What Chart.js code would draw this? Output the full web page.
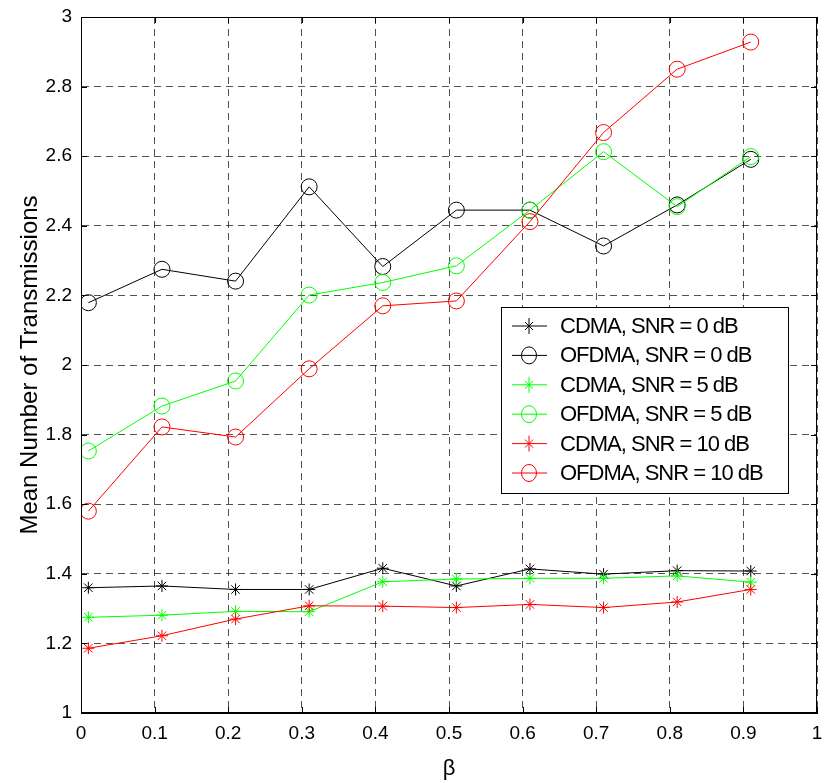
<!DOCTYPE html>
<html>
<head>
<meta charset="utf-8">
<script src="https://cdn.jsdelivr.net/npm/chart.js@4"></script>
<style>
  html, body { margin: 0; padding: 0; background: #fff; }
  #wrap { width: 826px; height: 783px; }
</style>
</head>
<body>
<div id="wrap"><canvas id="chart" width="826" height="783"></canvas></div>
<script>
const betaValues = [0.01, 0.11, 0.21, 0.31, 0.41, 0.51, 0.61, 0.71, 0.81, 0.91];

const cdma0 = [1.360, 1.365, 1.355, 1.355, 1.416, 1.365, 1.414, 1.399, 1.409, 1.408];
const ofdma0 = [2.179, 2.275, 2.241, 2.512, 2.283, 2.445, 2.445, 2.342, 2.460, 2.591];
const cdma5 = [1.275, 1.281, 1.292, 1.291, 1.377, 1.385, 1.387, 1.387, 1.394, 1.376];
const ofdma5 = [1.753, 1.882, 1.954, 2.201, 2.237, 2.285, 2.445, 2.613, 2.455, 2.599];
const cdma10 = [1.186, 1.222, 1.270, 1.308, 1.307, 1.303, 1.312, 1.303, 1.319, 1.355];
const ofdma10 = [1.580, 1.822, 1.793, 1.989, 2.170, 2.184, 2.412, 2.668, 2.850, 2.928];

const seriesLabels = [
    'CDMA, SNR = 0 dB', 'OFDMA, SNR = 0 dB',
    'CDMA, SNR = 5 dB', 'OFDMA, SNR = 5 dB',
    'CDMA, SNR = 10 dB', 'OFDMA, SNR = 10 dB'
];
const seriesValues = [cdma0, ofdma0, cdma5, ofdma5, cdma10, ofdma10];
const seriesColors = ['#000000', '#000000', '#00ff00', '#00ff00', '#ff0000', '#ff0000'];
const seriesMarkers = ['star', 'circle', 'star', 'circle', 'star', 'circle'];

const FONT = '"Liberation Sans", Arial, Helvetica, sans-serif';

function toPoints(vals) {
    return vals.map((v, i) => ({x: betaValues[i], y: v}));
}

const datasets = seriesValues.map((vals, i) => ({
    label: seriesLabels[i],
    data: toPoints(vals),
    borderColor: seriesColors[i],
    backgroundColor: 'rgba(0,0,0,0)',
    borderWidth: 1,
    pointStyle: seriesMarkers[i],
    pointRadius: seriesMarkers[i] === 'circle' ? 8 : 6,
    pointBorderWidth: 1,
    pointBorderColor: seriesColors[i],
    pointBackgroundColor: 'rgba(0,0,0,0)',
    tension: 0,
    fill: false,
    order: seriesValues.length - i
}));

// matlab style box, inward ticks and legend inside the axes
const boxAndLegend = {
    id: 'boxAndLegend',
    afterDatasetsDraw(chart) {
        const {ctx, chartArea: a, scales} = chart;
        ctx.save();
        ctx.strokeStyle = '#000';
        ctx.lineWidth = 1;
        ctx.setLineDash([]);
        ctx.strokeRect(a.left + 0.5, a.top + 0.5, a.right - a.left - 1, a.bottom - a.top - 1);

        ctx.beginPath();
        scales.x.ticks.forEach(t => {
            const px = Math.round(scales.x.getPixelForValue(t.value)) + 0.5;
            ctx.moveTo(px, a.bottom); ctx.lineTo(px, a.bottom - 6);
            ctx.moveTo(px, a.top); ctx.lineTo(px, a.top + 6);
        });
        scales.y.ticks.forEach(t => {
            const py = Math.round(scales.y.getPixelForValue(t.value)) + 0.5;
            ctx.moveTo(a.left, py); ctx.lineTo(a.left + 6, py);
            ctx.moveTo(a.right, py); ctx.lineTo(a.right - 6, py);
        });
        ctx.stroke();

        // legend
        const bx = 501, by = 307, bw = 287, bh = 186;
        ctx.fillStyle = '#fff';
        ctx.fillRect(bx, by, bw, bh);
        ctx.strokeRect(bx + 0.5, by + 0.5, bw, bh);
        ctx.font = '22px ' + FONT;
        ctx.letterSpacing = '-1px';
        ctx.textBaseline = 'middle';
        chart.data.datasets.forEach((ds, i) => {
            const y = by + 19 + i * 29.4;
            ctx.strokeStyle = ds.borderColor;
            ctx.beginPath();
            ctx.moveTo(512, y); ctx.lineTo(547, y);
            ctx.stroke();
            if (ds.pointStyle === 'circle') {
                ctx.beginPath();
                ctx.ellipse(529, y, 7.5, 8.5, 0, 0, Math.PI * 2);
                ctx.stroke();
            } else {
                ctx.beginPath();
                ctx.moveTo(529, y - 8); ctx.lineTo(529, y + 8);
                ctx.moveTo(525, y - 4); ctx.lineTo(533, y + 4);
                ctx.moveTo(533, y - 4); ctx.lineTo(525, y + 4);
                ctx.stroke();
            }
            ctx.fillStyle = '#000';
            ctx.fillText(ds.label, 560, y + 1);
        });
        ctx.restore();
    }
};

const ctx = document.getElementById('chart');

const chart = new Chart(ctx, {
    type: 'line',
    data: { datasets: datasets },
    options: {
        responsive: false,
        animation: false,
        layout: { padding: { left: 0, right: 9, top: 17, bottom: 0 } },
        plugins: {
            legend: { display: false },
            tooltip: { enabled: false }
        },
        scales: {
            x: {
                type: 'linear',
                min: 0,
                max: 1,
                afterFit: s => { s.height = 70; s.paddingLeft = 0; s.paddingRight = 0; },
                ticks: {
                    stepSize: 0.1,
                    color: '#000',
                    padding: 9,
                    maxRotation: 0,
                    font: { family: FONT, size: 19 },
                    callback: v => String(+v.toFixed(1))
                },
                grid: { color: 'rgba(0,0,0,0.68)', lineWidth: 1, drawTicks: false },
                border: { display: true, color: '#000', dash: [7, 5] },
                title: {
                    display: true,
                    text: 'β',
                    color: '#000',
                    font: { family: FONT, size: 22 },
                    padding: { top: 0, bottom: 1 }
                }
            },
            y: {
                min: 1,
                max: 3,
                afterFit: s => { s.width = 81; s.paddingTop = 0; s.paddingBottom = 0; },
                ticks: {
                    stepSize: 0.2,
                    color: '#000',
                    padding: 9,
                    font: { family: FONT, size: 19 },
                    callback: v => String(+v.toFixed(1))
                },
                grid: { color: 'rgba(0,0,0,0.68)', lineWidth: 1, drawTicks: false },
                border: { display: true, color: '#000', dash: [7, 5] },
                title: {
                    display: true,
                    text: 'Mean Number of Transmissions',
                    color: '#000',
                    font: { family: FONT, size: 24 },
                    padding: { top: 16, bottom: 0 }
                }
            }
        }
    },
    plugins: [boxAndLegend]
});
</script>
</body>
</html>
